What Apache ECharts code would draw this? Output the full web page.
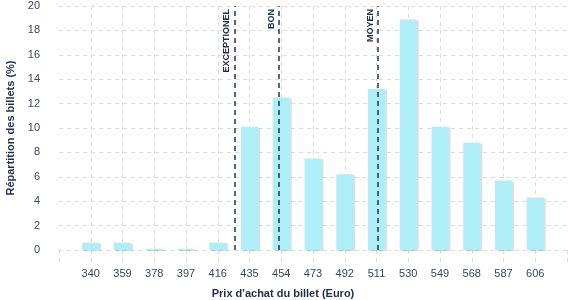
<!DOCTYPE html>
<html><head><meta charset="utf-8">
<script src="https://cdn.jsdelivr.net/npm/echarts@6/dist/echarts.min.js"></script>
<style>html,body{margin:0;padding:0;background:#fff}#c{width:577px;height:300px}</style>
</head><body><div id="c"></div>
<script>
var prices = [340, 359, 378, 397, 416, 435, 454, 473, 492, 511, 530, 549, 568, 587, 606];
var shares = [0.6, 0.6, 0.1, 0.1, 0.6, 10.1, 12.5, 7.5, 6.2, 13.2, 18.9, 10.1, 8.8, 5.7, 4.3];
var markerNames = ['EXCEPTIONEL', 'BON', 'MOYEN'];
var markerPrices = [426, 452.5, 512];
var xRange = [321, 625, 19];
var yTicks = [0, 20, 2];

var barData = prices.map(function (p, i) { return [p, shares[i]]; });
var textColor = '#3a4556';
var nameColor = '#1f2d4a';
var gridColor = '#dcdcdc';
var font = 'Arial, "Liberation Sans", Helvetica, sans-serif';

var chart = echarts.init(document.getElementById('c'), null, {renderer: 'canvas'});
chart.setOption({
  animation: false,
  grid: {left: 59, right: 10, top: 6, bottom: 50, containLabel: false, outerBoundsMode: 'none'},
  xAxis: {
    type: 'value', min: xRange[0], max: xRange[1], interval: xRange[2],
    axisLine: {show: false},
    axisTick: {show: true, length: 13, lineStyle: {color: gridColor, type: [4, 4]}},
    splitLine: {show: true, showMinLine: false, showMaxLine: false, lineStyle: {color: gridColor, type: [4, 4]}},
    axisLabel: {margin: 18, color: textColor, fontSize: 11, fontFamily: font,
      formatter: function (v) { return (v <= xRange[0] || v >= xRange[1]) ? '' : String(v); }},
    name: "Prix d'achat du billet (Euro)", nameLocation: 'middle', nameGap: 38,
    nameTextStyle: {color: nameColor, fontSize: 11, fontWeight: 'bold', fontFamily: font, padding: [0, 60, 0, 0]}
  },
  yAxis: {
    type: 'value', min: yTicks[0], max: yTicks[1], interval: yTicks[2],
    axisLine: {show: false}, axisTick: {show: false},
    splitLine: {show: true, lineStyle: {color: gridColor, type: [4, 4]}},
    axisLabel: {margin: 19, color: textColor, fontSize: 11, fontFamily: font},
    name: 'Répartition des billets (%)', nameLocation: 'middle', nameGap: 40,
    nameTextStyle: {color: nameColor, fontSize: 11, fontWeight: 'bold', fontFamily: font}
  },
  series: [{
    type: 'bar', data: barData, barWidth: 17,
    itemStyle: {color: '#aeeef8', shadowColor: 'rgba(0,0,0,0.13)', shadowOffsetX: 2, shadowOffsetY: 1, shadowBlur: 0},
    markLine: {
      silent: true, symbol: 'none',
      lineStyle: {color: '#24344f', width: 1.5, type: [5, 4]},
      label: {show: true, position: 'insideEndTop', formatter: '{b}', fontSize: 9, fontWeight: 'bold', color: nameColor, fontFamily: font, distance: 3},
      data: markerPrices.map(function (p, i) { return {name: markerNames[i], xAxis: p}; })
    }
  }]
});
</script></body></html>
